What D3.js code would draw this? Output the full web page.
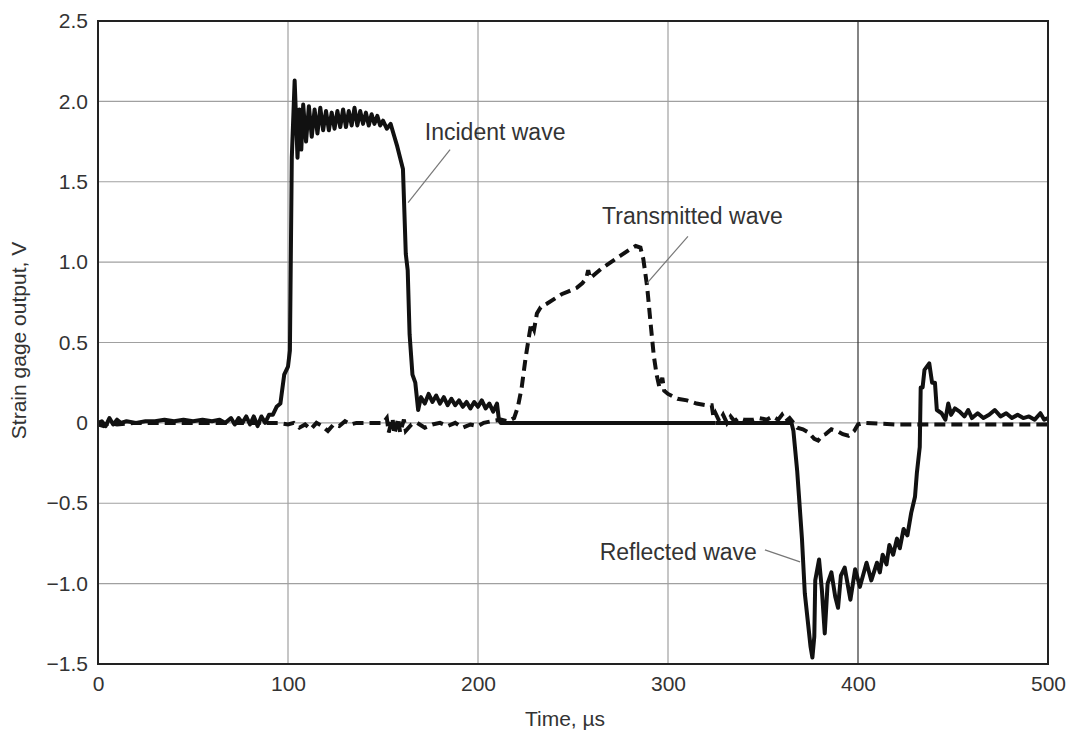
<!DOCTYPE html>
<html>
<head>
<meta charset="utf-8">
<script src="https://cdn.jsdelivr.net/npm/d3@7"></script>
<style>
  body { margin: 0; background: #fff; }
  text { font-family: "Liberation Sans", Arial, sans-serif; fill: #333; }
</style>
</head>
<body>
<div id="chart"></div>
<script>
// incident bar gauge, first part (incident wave) - time in us, output in V
var incidentT = [0,2,4,6,8,10,12,15,20,25,30,35,40,45,50,55,60,64,67,70,72,74,76,78,80,82,84,86,88,90,92,94,96,98,100,101,102,103.5,105,106,107,108,109.5,111,112.5,114,115.5,117,118.5,120,121.5,123,124.5,126,127.5,129,130.5,132,133.5,135,136.5,138,139.5,141,142.5,144,145.5,147,148.5,150,152,154,156,157.5,159,160.5,162,163,164,165.5,167,168.5,170,172,174,176,178,180,182,184,186,188,190,192,194,196,198,200,202,204,206,208,210,211,212,250,300,325];
var incidentV = [0,0.01,-0.02,0.03,-0.01,0.02,0,0.01,0,0.01,0.01,0.02,0.01,0.02,0.01,0.02,0.01,0.02,0,0.03,-0.01,0.03,0,0.04,-0.01,0.04,-0.02,0.04,0,0.05,0.05,0.1,0.12,0.3,0.35,0.45,1.65,2.13,1.65,1.95,1.7,1.98,1.75,1.97,1.78,1.95,1.8,1.96,1.82,1.94,1.82,1.93,1.83,1.94,1.84,1.95,1.84,1.94,1.85,1.96,1.85,1.94,1.86,1.93,1.85,1.92,1.86,1.91,1.85,1.88,1.83,1.86,1.78,1.72,1.65,1.58,1.05,0.95,0.55,0.3,0.25,0.08,0.16,0.12,0.18,0.13,0.17,0.12,0.16,0.11,0.15,0.11,0.14,0.1,0.13,0.09,0.13,0.1,0.14,0.09,0.12,0.07,0.12,0.02,0,0,0,0];

// same gauge, second part (reflected wave)
var reflectedT = [325,365,366,368,370.5,372,375,376,377,377.5,379.5,381,382.5,384,386,388,389.5,391,393,396,398.5,401,404.5,407,410,411.5,413,415,416.5,418.5,420.5,422,424,426,428,430,431,432.5,433,434,435,437.5,439,440.5,441.5,444,446,447.5,449,451,453.5,456,458,460,463,466,469,472,475,478,481,484,487,490,493,496,498,500];
var reflectedV = [0,0,-0.05,-0.3,-0.72,-1.06,-1.39,-1.46,-1.33,-0.98,-0.85,-1.04,-1.31,-1.0,-0.93,-1.08,-1.15,-0.95,-0.9,-1.1,-0.91,-1.02,-0.87,-0.98,-0.87,-0.93,-0.82,-0.88,-0.76,-0.82,-0.72,-0.78,-0.66,-0.7,-0.56,-0.46,-0.31,-0.15,0.22,0.22,0.33,0.37,0.25,0.25,0.08,0.06,0.02,0.12,0.05,0.09,0.07,0.04,0.08,0.03,0.06,0.03,0.05,0.08,0.04,0.06,0.03,0.05,0.03,0.04,0.02,0.06,0.02,0.03];

// transmitted bar gauge
var transmittedT = [0,3,6,10,20,40,60,80,95,100,103,106,109,112,115,118,121,124,127,130,133,136,140,145,150,152,153,155,156,158,159,161,162,165,168,172,176,180,184,188,192,196,200,203,207,212,216,219,221,223,225,227,228,229.5,231,233,236,240,244,248,252,255,257,258,259,261,265,270,275,280,283,285.5,287,289,291,292.5,294,295.5,297,298,300,305,310,315,320,323,324,325,327,329,331,333,335,337,340,345,348,352,355,358,360,362,364,366,368,371,374,377,379,381,383,386,389,392,395,398,400,403,420,450,500];
var transmittedV = [-0.01,-0.02,0,-0.01,0,0,0,0,0,-0.01,0,-0.03,-0.01,-0.04,0,-0.02,-0.05,-0.01,-0.02,0.01,-0.01,0,0,0,0,0.03,-0.06,0.03,-0.07,0.03,-0.06,0.02,-0.05,-0.01,0,-0.03,-0.01,0,-0.02,0,-0.03,-0.01,-0.02,0,0.01,0.02,0.01,0.03,0.1,0.22,0.4,0.55,0.62,0.58,0.68,0.72,0.74,0.77,0.8,0.82,0.84,0.87,0.9,0.95,0.9,0.92,0.96,1.0,1.04,1.08,1.1,1.09,1.02,0.85,0.6,0.42,0.3,0.22,0.28,0.2,0.18,0.15,0.14,0.12,0.11,0.11,0.03,0.06,0.01,0.05,0,0.04,0.01,0.03,0.02,0.02,0.03,0.02,0.04,0.02,0.05,0.01,0.03,0,-0.03,-0.04,-0.06,-0.1,-0.11,-0.08,-0.07,-0.04,-0.05,-0.07,-0.08,-0.05,-0.01,0,-0.01,-0.01,-0.01];

var xTicks = [0,100,200,300,400,500];
var yTicks = [-1.5,-1.0,-0.5,0,0.5,1.0,1.5,2.0,2.5];

// annotation text position and leader line ends, in data units
var labels = [
    {text: "Incident wave", t: 172, v: 1.76, anchor: "start", line: [[185.3, 1.70], [163.2, 1.37]]},
    {text: "Transmitted wave", t: 265.3, v: 1.24, anchor: "start", line: [[310.5, 1.16], [289, 0.87]]},
    {text: "Reflected wave", t: 346.8, v: -0.85, anchor: "end", line: [[351, -0.79], [369.5, -0.865]]}
];

var margin = {top: 21, right: 23, bottom: 66, left: 98};
var W = 1071, H = 730;
var width = W - margin.left - margin.right;
var height = H - margin.top - margin.bottom;

var x = d3.scaleLinear().domain([0, 500]).range([0, width]);
var y = d3.scaleLinear().domain([-1.5, 2.5]).range([height, 0]);

var svg = d3.select("#chart").append("svg")
    .attr("width", W)
    .attr("height", H)
    .append("g")
    .attr("transform", "translate(" + margin.left + "," + margin.top + ")");

svg.append("clipPath").attr("id", "clip")
    .append("rect").attr("width", width).attr("height", height);

// grid
svg.append("g").selectAll("line.h")
    .data(yTicks.slice(1, -1))
    .enter().append("line")
    .attr("x1", 0).attr("x2", width)
    .attr("y1", function(d) { return y(d); })
    .attr("y2", function(d) { return y(d); })
    .attr("stroke", "#a0a0a0").attr("stroke-width", 1.2);
svg.append("g").selectAll("line.v")
    .data(xTicks.slice(1, -1))
    .enter().append("line")
    .attr("y1", 0).attr("y2", height)
    .attr("x1", function(d) { return x(d); })
    .attr("x2", function(d) { return x(d); })
    .attr("stroke", function(d) { return d == 400 ? "#333" : "#a0a0a0"; })
    .attr("stroke-width", 1.2);

// axes (labels only, frame drawn separately)
var xAxis = d3.axisBottom(x).tickValues(xTicks).tickSize(0).tickPadding(12).tickFormat(d3.format("d"));
var yAxis = d3.axisLeft(y).tickValues(yTicks).tickSize(0).tickPadding(10)
    .tickFormat(function(d) { return d == 0 ? "0" : d3.format(".1f")(d).replace("-", "\u2212"); });
svg.append("g").attr("transform", "translate(0," + height + ")").call(xAxis)
    .call(function(g) { g.select(".domain").remove(); })
    .selectAll("text").style("font-size", "21px").attr("fill", "#333");
svg.append("g").call(yAxis)
    .call(function(g) { g.select(".domain").remove(); })
    .selectAll("text").style("font-size", "21px").attr("fill", "#333");

var line = d3.line()
    .x(function(d) { return x(d[0]); })
    .y(function(d) { return y(d[1]); });

var plot = svg.append("g").attr("clip-path", "url(#clip)");
plot.append("path")
    .datum(d3.zip(transmittedT, transmittedV))
    .attr("d", line)
    .attr("fill", "none").attr("stroke", "#111")
    .attr("stroke-width", 4)
    .attr("stroke-dasharray", "11,6");
plot.append("path")
    .datum(d3.zip(incidentT, incidentV))
    .attr("d", line)
    .attr("fill", "none").attr("stroke", "#111")
    .attr("stroke-width", 4).attr("stroke-linejoin", "round");
plot.append("path")
    .datum(d3.zip(reflectedT, reflectedV))
    .attr("d", line)
    .attr("fill", "none").attr("stroke", "#111")
    .attr("stroke-width", 4).attr("stroke-linejoin", "round");

// frame
svg.append("rect")
    .attr("width", width).attr("height", height)
    .attr("fill", "none").attr("stroke", "#222").attr("stroke-width", 2);

// annotations
labels.forEach(function(l) {
    svg.append("line")
        .attr("x1", x(l.line[0][0])).attr("y1", y(l.line[0][1]))
        .attr("x2", x(l.line[1][0])).attr("y2", y(l.line[1][1]))
        .attr("stroke", "#777").attr("stroke-width", 1.2);
    svg.append("text")
        .attr("x", x(l.t)).attr("y", y(l.v))
        .attr("text-anchor", l.anchor)
        .style("font-size", "23px")
        .text(l.text);
});

// axis titles
svg.append("text")
    .attr("x", width / 2 - 8).attr("y", height + 62)
    .attr("text-anchor", "middle")
    .style("font-size", "21px")
    .text("Time, \u00b5s");
svg.append("text")
    .attr("transform", "translate(" + (-72) + "," + (height / 2 - 2) + ") rotate(-90)")
    .attr("text-anchor", "middle")
    .style("font-size", "21px")
    .text("Strain gage output, V");
</script>
</body>
</html>
